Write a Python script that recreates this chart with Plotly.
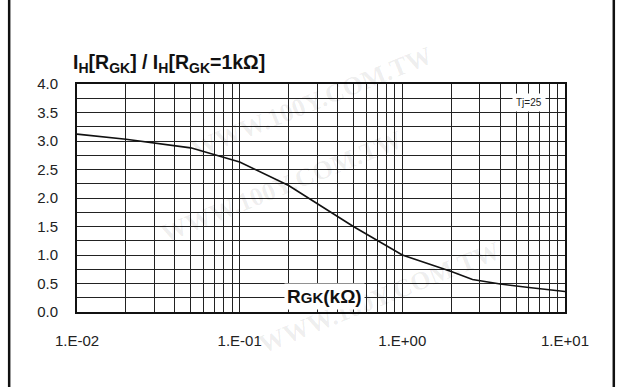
import plotly.graph_objects as go

# Holding-current ratio vs gate-cathode resistance
r_gk = [0.01, 0.02, 0.05, 0.1, 0.2, 0.5, 1.0, 2.0, 2.7, 4.0, 6.0, 10.0]
ih_ratio = [3.12, 3.03, 2.88, 2.63, 2.22, 1.50, 1.00, 0.71, 0.57, 0.49, 0.43, 0.36]

decades = [0.01, 0.1, 1.0, 10.0]
decade_labels = ["1.E-02", "1.E-01", "1.E+00", "1.E+01"]
y_major = [0.0, 0.5, 1.0, 1.5, 2.0, 2.5, 3.0, 3.5, 4.0]
y_labels = [f"{v:.1f}" for v in y_major]

# log grid: every integer multiple inside each decade
x_grid = []
for d in decades[:-1]:
    for m in range(1, 10):
        x_grid.append(round(d * m, 6))
x_grid.append(10.0)

y_grid = [i * 0.25 for i in range(17)]

FONT = "Liberation Sans, Arial, sans-serif"
GRID = "#222222"

fig = go.Figure()
fig.add_trace(go.Scatter(
    x=r_gk, y=ih_ratio, mode="lines",
    line=dict(color="#111111", width=1.6),
    showlegend=False, hoverinfo="skip",
))
# invisible companion trace that carries the fine grid axes
fig.add_trace(go.Scatter(
    x=[0.01, 10], y=[0, 4], xaxis="x2", yaxis="y2", mode="markers",
    marker=dict(opacity=0), showlegend=False, hoverinfo="skip",
))

fig.update_layout(
    width=622, height=387,
    margin=dict(l=77, r=57, t=84, b=75),
    paper_bgcolor="white", plot_bgcolor="white",
    font=dict(family=FONT, size=15, color="#222222"),
    xaxis=dict(
        type="log", range=[-2, 1],
        tickmode="array", tickvals=decades, ticktext=decade_labels,
        showgrid=False,
        showline=True, linecolor="#111111", linewidth=2, mirror=True,
        ticks="", ticklabelstandoff=14, zeroline=False,
    ),
    yaxis=dict(
        range=[0, 4],
        tickmode="array", tickvals=y_major, ticktext=y_labels,
        showgrid=False,
        showline=True, linecolor="#111111", linewidth=2, mirror=True,
        ticks="", ticklabelstandoff=14, zeroline=False,
    ),
    xaxis2=dict(
        type="log", range=[-2, 1], overlaying="x",
        tickmode="array", tickvals=x_grid, showticklabels=False,
        showgrid=True, gridcolor=GRID, gridwidth=1, ticks="",
        zeroline=False, layer="below traces",
    ),
    yaxis2=dict(
        range=[0, 4], overlaying="y",
        tickmode="array", tickvals=y_grid, showticklabels=False,
        showgrid=True, gridcolor=GRID, gridwidth=1, ticks="",
        zeroline=False, layer="below traces",
    ),
)

# faint diagonal watermark
for wx, wy in [(0.22, 1.2), (0.42, 0.55), (0.62, -0.22)]:
    fig.add_annotation(
        text="<b>WWW.100Y.COM.TW</b>", xref="paper", yref="paper", x=wx, y=wy,
        showarrow=False, textangle=-22,
        font=dict(family="Liberation Serif, serif", size=26, color="rgba(0,0,0,0.07)"),
    )

# outer frame
for x0 in [-0.139, 1.100]:
    fig.add_shape(type="line", xref="paper", yref="paper",
                  x0=x0, x1=x0, y0=-0.4, y1=1.4,
                  line=dict(color="#111111", width=2.5))

# chart title
SUB = "<sub><span style='font-size:14px'>{}</span></sub>"
fig.add_annotation(
    text="<b>I" + SUB.format("H") + "[R" + SUB.format("GK") + "] / I" + SUB.format("H")
         + "[R" + SUB.format("GK") + "=1kΩ]</b>",
    xref="paper", yref="paper", x=-0.012, y=1.09,
    xanchor="left", yanchor="middle", showarrow=False,
    font=dict(family=FONT, size=19.5, color="#111111"),
)

# x-axis title inside plot, on white patch
fig.add_annotation(
    text="<b>R<span style='font-size:15px'>GK</span>(kΩ)</b>",
    xref="paper", yref="paper", x=0.508, y=0.07,
    xanchor="center", yanchor="middle", showarrow=False,
    bgcolor="white", borderpad=2,
    font=dict(family=FONT, size=19, color="#111111"),
)

# junction temperature note
fig.add_annotation(
    text="Tj=25", xref="paper", yref="paper", x=0.926, y=0.917,
    xanchor="center", yanchor="middle", showarrow=False,
    bgcolor="white", borderpad=3,
    font=dict(family=FONT, size=10, color="#222222"),
)

fig.write_html("out.html")
